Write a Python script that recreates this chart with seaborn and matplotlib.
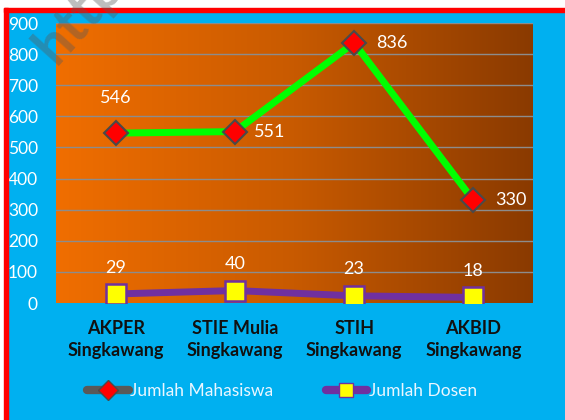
import numpy as np
import pandas as pd
import matplotlib
matplotlib.use('Agg')
import matplotlib.pyplot as plt
import seaborn as sns
from matplotlib.colors import LinearSegmentedColormap
from matplotlib.lines import Line2D
from matplotlib.patches import Rectangle

# data
prodi = ['AKPER\nSingkawang', 'STIE Mulia\nSingkawang', 'STIH\nSingkawang', 'AKBID\nSingkawang']
mahasiswa = [546, 551, 836, 330]
dosen = [29, 40, 23, 18]
yticks = [0, 100, 200, 300, 400, 500, 600, 700, 800, 900]

df = pd.DataFrame({'prodi': prodi, 'mahasiswa': mahasiswa, 'dosen': dosen})

sns.set_style('white')
plt.rcParams['font.family'] = ['Lato', 'DejaVu Sans']

W, H = 565, 420
fig = plt.figure(figsize=(W / 100, H / 100), dpi=100, facecolor='#00B0F0')

# border frame (white margin + red lines)
fig.patches.append(Rectangle((0, 1 - 8 / H), 1, 8 / H, transform=fig.transFigure, color='white', zorder=0))
fig.patches.append(Rectangle((4 / W, 1 - 12 / H), 1, 4 / H, transform=fig.transFigure, color='#FF0000', zorder=1))
fig.patches.append(Rectangle((0, 0), 4 / W, 1, transform=fig.transFigure, color='white', zorder=0))
fig.patches.append(Rectangle((4 / W, 0), 4 / W, 1 - 8 / H, transform=fig.transFigure, color='#FF0000', zorder=1))

ax = fig.add_axes([56 / W, (H - 303) / H, 477 / W, 280 / H])

# mahasiswa line
sns.lineplot(data=df, x='prodi', y='mahasiswa', ax=ax, color='#00FF00', lw=5,
             marker='D', markersize=12, markerfacecolor='#FF0000',
             markeredgecolor='#4A4A4A', markeredgewidth=1.5, zorder=4, sort=False)
# dosen line
sns.lineplot(data=df, x='prodi', y='dosen', ax=ax, color='#7030A0', lw=5,
             marker='s', markersize=15, markerfacecolor='#FFFF00',
             markeredgecolor='#7030A0', markeredgewidth=1.8, zorder=4, sort=False)

# gradient background of plot area
grad = np.linspace(0, 1, 256).reshape(1, -1)
cmap = LinearSegmentedColormap.from_list('bg', ['#F06E00', '#C85A00', '#8A3A00'])
ax.imshow(grad, extent=[-0.5, 3.5, 0, 900], aspect='auto', cmap=cmap, zorder=0)
ax.set_xlim(-0.5, 3.5)
ax.set_ylim(0, 900)

for y in yticks[1:]:
    ax.axhline(y, color='#8C8C8C', lw=1, zorder=1)

# data labels
mh_off = [(0, 25), (25, 0), (27, 0), (27, 0)]
for i, v in enumerate(mahasiswa):
    dx, dy = mh_off[i]
    ax.annotate(str(v), (i, v), xytext=(dx, dy), textcoords='offset points',
                ha='center', va='center', color='white', fontsize=13, zorder=5)
for i, v in enumerate(dosen):
    ax.annotate(str(v), (i, v), xytext=(0, 19), textcoords='offset points',
                ha='center', va='center', color='white', fontsize=13, zorder=5)

ax.set_xlabel('')
ax.set_ylabel('')
ax.set_yticks(yticks)
ax.tick_params(axis='y', colors='white', labelsize=12.5, length=0, pad=13)
ax.tick_params(axis='x', labelsize=13, length=0, pad=12, labelcolor='#111111')
for lab in ax.get_xticklabels():
    lab.set_fontweight('bold')
    lab.set_linespacing(1.35)
for s in ax.spines.values():
    s.set_visible(False)

# legend
handles = [
    Line2D([], [], color='#595959', lw=6, marker='D', markersize=10,
           markerfacecolor='#FF0000', markeredgecolor='#4A4A4A', solid_capstyle='round'),
    Line2D([], [], color='#7030A0', lw=6, marker='s', markersize=10,
           markerfacecolor='#FFFF00', markeredgecolor='#7030A0', solid_capstyle='round'),
]
fig.legend(handles, ['Jumlah Mahasiswa', 'Jumlah Dosen'], loc='center',
           bbox_to_anchor=(282 / W, 1 - 391 / H), ncol=2, frameon=False,
           handlelength=2.4, handletextpad=0.1, columnspacing=3.0,
           labelcolor='#EAF6FF', prop={'size': 12.5})

# faint watermark, cut by the top edge as in the source
fig.text(56 / W, 1 - 66 / H, 'http://', rotation=48, fontsize=40, fontweight='bold',
         color='#5A5A5A', alpha=0.4, ha='left', va='baseline', zorder=2,
         rotation_mode='anchor')

fig.savefig('out.png', dpi=100, facecolor=fig.get_facecolor())
